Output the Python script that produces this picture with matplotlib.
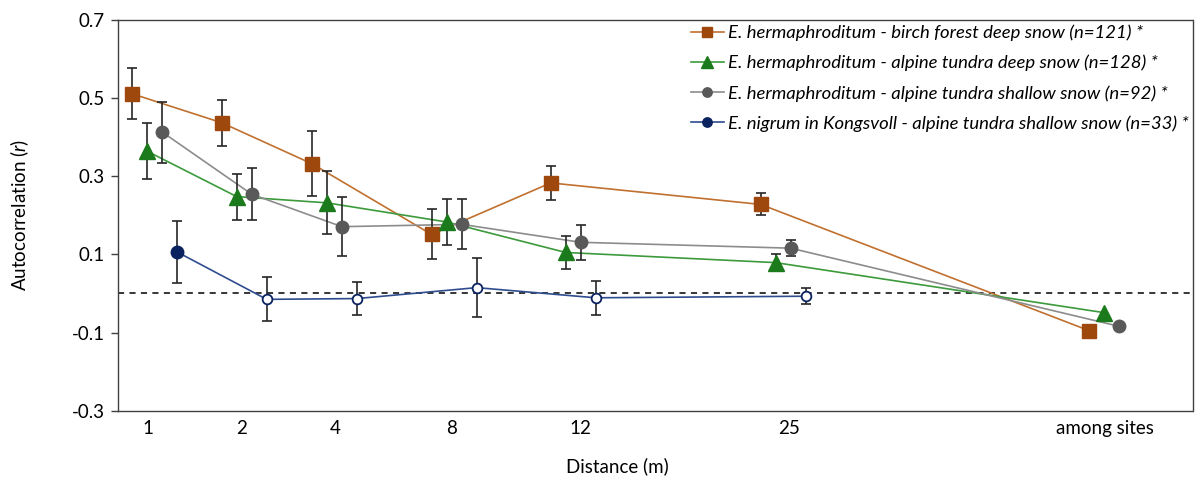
import numpy as np
import matplotlib.pyplot as plt
from matplotlib.lines import Line2D

plt.rcParams['font.family'] = ['Lato', 'DejaVu Sans']
plt.rcParams['mathtext.fontset'] = 'custom'
plt.rcParams['mathtext.it'] = 'Lato:italic'
plt.rcParams['mathtext.rm'] = 'Lato'

# distance classes and where they sit on the axis
distance_labels = ["1", "2", "4", "8", "12", "25", "among sites"]
group_pos = [0.324, 1.296, 2.277, 3.578, 4.872, 7.154, 10.723]
label_pos = [0.335, 1.35, 2.364, 3.633, 5.027, 7.299, 10.734]

# autocorrelation r and error (last value "among sites" has no error bar)
birch_deep = [0.511, 0.437, 0.332, 0.151, 0.283, 0.228, -0.095]
birch_deep_err = [0.065, 0.059, 0.083, 0.064, 0.043, 0.028]
tundra_deep = [0.364, 0.248, 0.232, 0.183, 0.105, 0.079, -0.049]
tundra_deep_err = [0.072, 0.059, 0.081, 0.059, 0.042, 0.021]
tundra_shallow = [0.413, 0.254, 0.171, 0.177, 0.131, 0.116, -0.084]
tundra_shallow_err = [0.078, 0.066, 0.075, 0.064, 0.045, 0.021]
nigrum_shallow = [0.106, -0.015, -0.013, 0.015, -0.011, -0.007]
nigrum_shallow_err = [0.080, 0.056, 0.043, 0.076, 0.043, 0.021]

labels = [
    "E. hermaphroditum - birch forest deep snow (n=121) *",
    "E. hermaphroditum - alpine tundra deep snow (n=128) *",
    "E. hermaphroditum - alpine tundra shallow snow (n=92) *",
    "E. nigrum in Kongsvoll - alpine tundra shallow snow (n=33) *",
]

series = [
    (birch_deep, birch_deep_err, -1, "s", 9.5, "#9E480E", "#C0702F"),
    (tundra_deep, tundra_deep_err, 0, "^", 11, "#1B7A1B", "#3C9A3C"),
    (tundra_shallow, tundra_shallow_err, 1, "o", 9, "#595959", "#8C8C8C"),
    (nigrum_shallow, nigrum_shallow_err, 2, "o", 9, "#0B2260", "#2F4C8F"),
]
step = 0.163

fig = plt.figure(figsize=(12, 4.83), dpi=100)
ax = fig.add_axes([117.5 / 1200, (483 - 410.7) / 483, 1075 / 1200, 390.7 / 483])

ax.axhline(0, color="black", lw=1.1, ls=(0, (4, 3.5)), zorder=1)

handles = []
for vals, errs, k, mk, ms, mcol, lcol in series:
    x = np.array(group_pos[:len(vals)]) + k * step
    ax.plot(x, vals, color=lcol, lw=1.2, zorder=2)
    n = len(errs)
    ax.errorbar(x[:n], vals[:n], yerr=errs, fmt="none", ecolor="#262626",
                elinewidth=1.2, capsize=3.3, capthick=1.2, zorder=3)
    if k == 2:
        # first point filled, the rest open
        ax.plot(x[:1], vals[:1], ls="none", marker=mk, ms=ms, mfc=mcol,
                mec=mcol, zorder=4)
        ax.plot(x[1:], vals[1:], ls="none", marker=mk, ms=7, mfc="white",
                mec=mcol, mew=1.3, zorder=4)
    else:
        ax.plot(x, vals, ls="none", marker=mk, ms=ms, mfc=mcol, mec=mcol,
                zorder=4)
    handles.append(Line2D([], [], color=lcol, lw=1.2, marker=mk, ms=ms * 0.75,
                          mfc=mcol, mec=mcol))

ax.set_xlim(0, 11.685)
ax.set_ylim(-0.3, 0.7)
ax.set_xticks(label_pos)
ax.set_xticklabels(distance_labels, fontsize=13.5)
yt = [-0.3, -0.1, 0.1, 0.3, 0.5, 0.7]
ax.set_yticks(yt)
ax.set_yticklabels(["%.1f" % v for v in yt], fontsize=13.5)
ax.tick_params(axis="x", length=0, pad=7)
ax.tick_params(axis="y", length=5, width=1, color="#404040", pad=4)
for sp in ax.spines.values():
    sp.set_color("#404040")
    sp.set_linewidth(1.0)

ax.set_xlabel("Distance (m)", fontsize=13.5, va="center")
ax.xaxis.set_label_coords(0.4647, -0.1415)
ax.set_ylabel("Autocorrelation ($r$)", fontsize=13.5, va="center")
ax.yaxis.set_label_coords(-0.0907, 0.5)

ax.legend(handles, labels, loc="upper left",
          bbox_to_anchor=((686 - 117.5) / 1075, 1.0), frameon=False,
          prop={"style": "italic", "size": 13.3}, handlelength=1.8,
          handletextpad=0.25, labelspacing=0.74, borderaxespad=0,
          borderpad=0.25)

fig.savefig("out.png", dpi=100)
